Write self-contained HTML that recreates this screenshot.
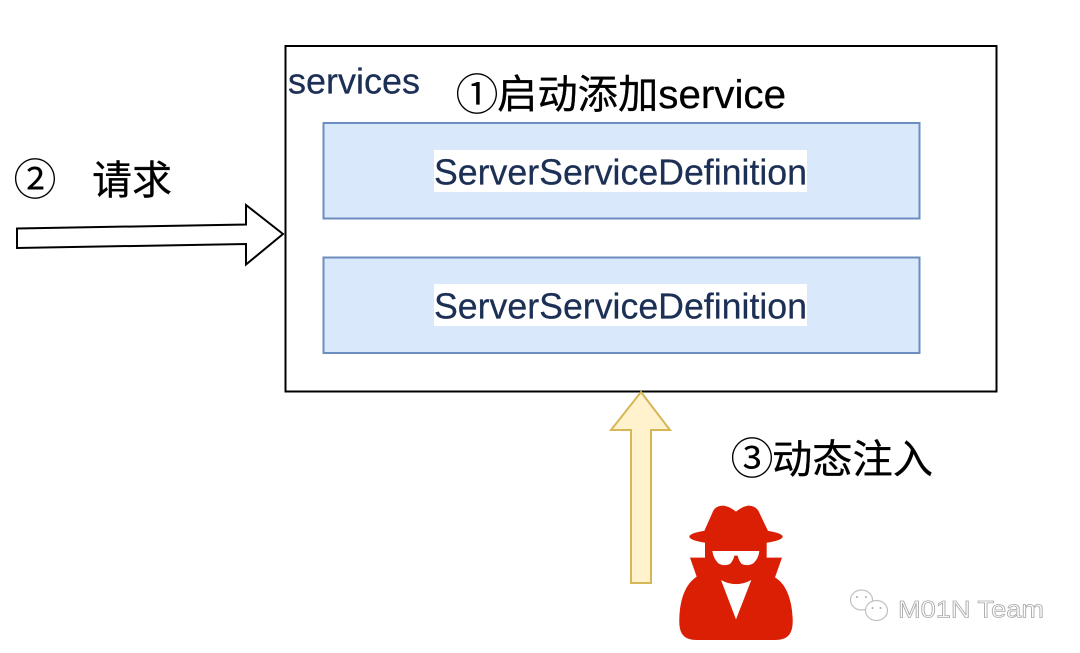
<!DOCTYPE html>
<html><head><meta charset="utf-8"><style>
html,body{margin:0;padding:0;background:#fff}
svg{display:block}
text{font-family:"Liberation Sans","Noto Sans CJK SC",sans-serif}
.k{fill:#000;stroke:#000;stroke-width:.3;font-size:40px}
.c{fill:#000;font-size:43px;font-family:"Noto Sans CJK SC",sans-serif}
.b{fill:#1c2f55;stroke:#1c2f55;stroke-width:.25;font-size:36px}
</style></head><body>
<svg width="1080" height="653" viewBox="0 0 1080 653" xmlns="http://www.w3.org/2000/svg">
<rect width="1080" height="653" fill="#fff"/>
<rect x="285.500" y="46" width="711" height="345.500" fill="#fff" stroke="#000" stroke-width="2"/>
<rect x="323.500" y="123" width="596" height="95.500" fill="#dae8fc" stroke="#6c8ebf" stroke-width="2"/>
<rect x="323.500" y="257.500" width="596" height="95.500" fill="#dae8fc" stroke="#6c8ebf" stroke-width="2"/>
<rect x="434" y="150" width="373" height="42" fill="#fff"/>
<rect x="434" y="284" width="373" height="42" fill="#fff"/>
<text class="b" x="434" y="184.500" textLength="373" lengthAdjust="spacingAndGlyphs">ServerServiceDefinition</text>
<text class="b" x="434" y="318.500" textLength="373" lengthAdjust="spacingAndGlyphs">ServerServiceDefinition</text>
<text class="b" x="288" y="93.500" textLength="132" lengthAdjust="spacingAndGlyphs">services</text>
<text class="c" x="455.500" y="110">①</text>
<text class="k" x="497" y="108" textLength="289" lengthAdjust="spacingAndGlyphs">启动添加service</text>
<text class="c" x="13.500" y="195">②</text>
<text class="k" x="92" y="194" textLength="80" lengthAdjust="spacingAndGlyphs">请求</text>
<text class="c" x="730.500" y="474">③</text>
<text class="k" x="772" y="473" textLength="161" lengthAdjust="spacingAndGlyphs">动态注入</text>
<polygon points="17,228.500 246,224.500 246,205 283,234 246,264.500 246,244 17,248" fill="#fff" stroke="#000" stroke-width="2"/>
<polygon points="631,583 631,430 611,430 641,392 670,430 651,430 651,583" fill="#fff2cc" stroke="#d6b656" stroke-width="2"/>
<g transform="translate(660,490) scale(.33333)" fill="#da1f05">
<path d="M132,125 L160,62 Q168,47 190,47 Q210,50 228,65 Q246,50 265,47 Q285,47 295,62 L325,125 Z"/>
<ellipse cx="228" cy="140" rx="140" ry="24"/>
<path d="M135,150 L320,150 L320,203 L366,203 L345,262 C375,280 395,320 398,385 C400,430 385,450 345,450 L110,450 C70,450 56,430 58,385 C60,320 80,280 110,260 L90,203 L135,203 Z"/>
<path d="M157,183 L298,183 Q296,205 280,220 Q262,230 245,222 Q236,212 233,197 L223,197 Q220,212 210,222 Q192,230 175,220 Q160,205 157,183 Z" fill="#fff"/>
<path d="M183,270 Q228,295 274,270 L228,388 Z" fill="#fff"/>
</g>
<g fill="none" stroke="#c0c0c0" stroke-width="1.200">
<ellipse cx="861.500" cy="600" rx="11" ry="10"/>
<ellipse cx="876.500" cy="610.500" rx="11" ry="10" fill="#fff"/>
<circle cx="857" cy="597" r="1" fill="#aaa" stroke="none"/>
<circle cx="866" cy="597" r="1" fill="#aaa" stroke="none"/>
<circle cx="872.500" cy="608" r="1" fill="#aaa" stroke="none"/>
<circle cx="880.500" cy="608" r="1" fill="#aaa" stroke="none"/>
</g>
<text x="898" y="617.500" font-size="24" fill="#fff" stroke="#aaa" stroke-width=".8" textLength="146" lengthAdjust="spacingAndGlyphs">M01N Team</text>
</svg>
</body></html>
